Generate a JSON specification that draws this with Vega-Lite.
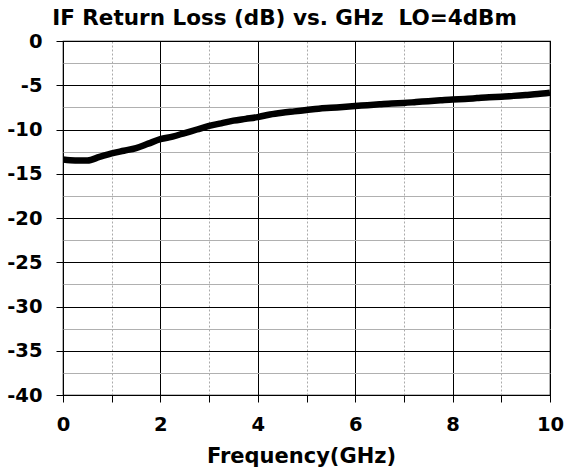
{
  "$schema": "https://vega.github.io/schema/vega-lite/v6.json",
  "autosize": {"type": "none"},
  "padding": {"left": 63, "top": 41, "right": 15, "bottom": 75},
  "width": 487,
  "height": 354,
  "background": "white",
  "config": {
    "font": "DejaVu Sans",
    "view": {"stroke": "black", "strokeWidth": 1.2}
  },
  "title": {
    "text": "IF Return Loss (dB) vs. GHz\u00a0 LO=4dBm",
    "font": "DejaVu Sans",
    "fontSize": 21.5,
    "fontWeight": "bold",
    "color": "black",
    "anchor": "middle",
    "dx": -22,
    "offset": 2
  },
  "data": {
    "values": [
      {"f": 0, "rl": -13.4}, {"f": 0.25, "rl": -13.5}, {"f": 0.5, "rl": -13.5}, {"f": 0.75, "rl": -13.1},
      {"f": 1.0, "rl": -12.7}, {"f": 1.25, "rl": -12.4}, {"f": 1.5, "rl": -12.1}, {"f": 1.75, "rl": -11.6},
      {"f": 2.0, "rl": -11.1}, {"f": 2.25, "rl": -10.8}, {"f": 2.5, "rl": -10.4}, {"f": 2.75, "rl": -10.0},
      {"f": 3.0, "rl": -9.6}, {"f": 3.25, "rl": -9.3}, {"f": 3.5, "rl": -9.0}, {"f": 3.75, "rl": -8.8},
      {"f": 4.0, "rl": -8.6}, {"f": 4.25, "rl": -8.3}, {"f": 4.5, "rl": -8.1}, {"f": 4.75, "rl": -7.95},
      {"f": 5.0, "rl": -7.8}, {"f": 5.25, "rl": -7.65}, {"f": 5.5, "rl": -7.55}, {"f": 5.75, "rl": -7.45},
      {"f": 6.0, "rl": -7.35}, {"f": 6.25, "rl": -7.25}, {"f": 6.5, "rl": -7.15}, {"f": 6.75, "rl": -7.05},
      {"f": 7.0, "rl": -7.0}, {"f": 7.25, "rl": -6.9}, {"f": 7.5, "rl": -6.8}, {"f": 7.75, "rl": -6.7},
      {"f": 8.0, "rl": -6.6}, {"f": 8.25, "rl": -6.55}, {"f": 8.5, "rl": -6.45}, {"f": 8.75, "rl": -6.35},
      {"f": 9.0, "rl": -6.3}, {"f": 9.25, "rl": -6.2}, {"f": 9.5, "rl": -6.1}, {"f": 9.75, "rl": -6.0},
      {"f": 10.0, "rl": -5.85}
    ]
  },
  "mark": {"type": "line", "color": "black", "strokeWidth": 6.5, "interpolate": "monotone", "clip": true},
  "encoding": {
    "x": {
      "field": "f",
      "type": "quantitative",
      "scale": {"domain": [0, 10], "nice": false},
      "axis": {
        "title": "Frequency(GHz)",
        "titleFontSize": 21,
        "titleFontWeight": "bold",
        "titleColor": "black",
        "titlePadding": 12,
        "titleX": 238,
        "values": [0, 1, 2, 3, 4, 5, 6, 7, 8, 9, 10],
        "labelExpr": "datum.value % 2 === 0 ? datum.label : ''",
        "labelFontSize": 19.5,
        "labelFontWeight": "bold",
        "labelColor": "black",
        "labelPadding": 13,
        "labelFlush": false,
        "labelOverlap": false,
        "domain": false,
        "tickColor": "black",
        "tickSize": 7,
        "grid": true,
        "gridColor": {"condition": {"test": "datum.value % 2 !== 0", "value": "#aaaaaa"}, "value": "black"},
        "gridDash": {"condition": {"test": "datum.value % 2 !== 0", "value": [2, 2]}, "value": []},
        "gridWidth": 1
      }
    },
    "y": {
      "field": "rl",
      "type": "quantitative",
      "scale": {"domain": [-40, 0], "nice": false},
      "axis": {
        "title": null,
        "values": [0, -2.5, -5, -7.5, -10, -12.5, -15, -17.5, -20, -22.5, -25, -27.5, -30, -32.5, -35, -37.5, -40],
        "labelExpr": "datum.value % 5 === 0 ? toString(datum.value) : ''",
        "labelFontSize": 19.5,
        "labelFontWeight": "bold",
        "labelColor": "black",
        "labelPadding": 14,
        "labelOverlap": false,
        "domain": false,
        "tickColor": {"condition": {"test": "datum.value % 5 !== 0", "value": "transparent"}, "value": "black"},
        "tickSize": 7,
        "grid": true,
        "gridColor": {"condition": {"test": "datum.value % 5 !== 0", "value": "#b0b0b0"}, "value": "black"},
        "gridWidth": 1
      }
    }
  }
}
